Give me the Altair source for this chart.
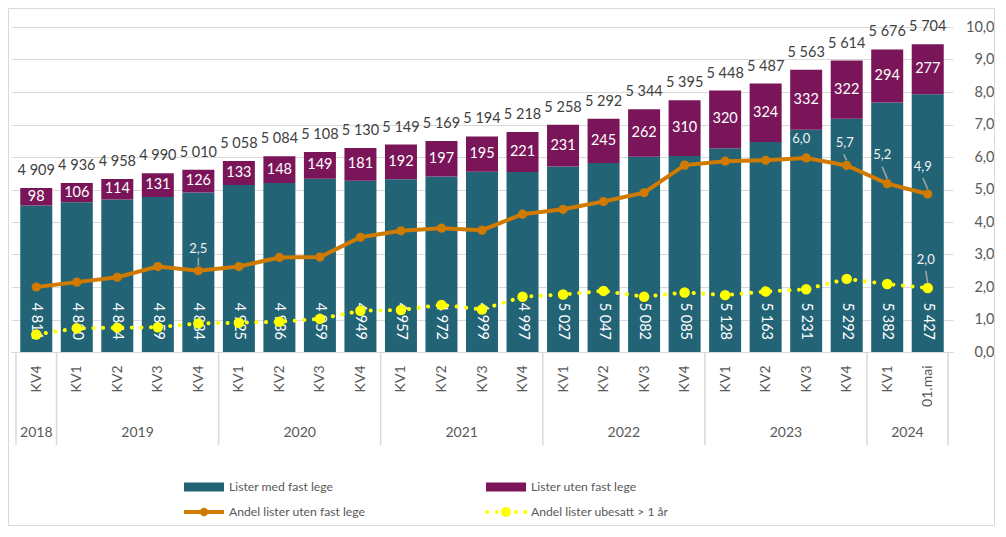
import json
import altair as alt
import pandas as pd

# ---------------- data ----------------
quarters = ["KV4", "KV1", "KV2", "KV3", "KV4", "KV1", "KV2", "KV3", "KV4", "KV1", "KV2", "KV3",
            "KV4", "KV1", "KV2", "KV3", "KV4", "KV1", "KV2", "KV3", "KV4", "KV1", "01.mai"]
years = ["2018", "2019", "2020", "2021", "2022", "2023", "2024"]
year_counts = [1, 4, 4, 4, 4, 4, 2]
totals = [4909, 4936, 4958, 4990, 5010, 5058, 5084, 5108, 5130, 5149, 5169, 5194,
          5218, 5258, 5292, 5344, 5395, 5448, 5487, 5563, 5614, 5676, 5704]
med_fast = [4811, 4830, 4844, 4859, 4884, 4925, 4936, 4959, 4949, 4957, 4972, 4999,
            4997, 5027, 5047, 5082, 5085, 5128, 5163, 5231, 5292, 5382, 5427]
uten_fast = [98, 106, 114, 131, 126, 133, 148, 149, 181, 192, 197, 195,
             221, 231, 245, 262, 310, 320, 324, 332, 322, 294, 277]
andel_uten = [2.0, 2.15, 2.3, 2.63, 2.5, 2.63, 2.91, 2.92, 3.53, 3.73, 3.81, 3.75,
              4.24, 4.39, 4.63, 4.90, 5.75, 5.87, 5.90, 5.97, 5.74, 5.18, 4.86]
andel_ubesatt = [0.54, 0.73, 0.75, 0.76, 0.88, 0.90, 0.93, 1.02, 1.27, 1.29, 1.45, 1.31,
                 1.70, 1.77, 1.88, 1.70, 1.83, 1.75, 1.86, 1.93, 2.25, 2.09, 1.97]
legend_labels = ["Lister med fast lege", "Lister uten fast lege",
                 "Andel lister uten fast lege", "Andel lister ubesatt > 1 år"]

# labelled points: (series, index, text dx, text dy, leader dx, leader dy)
line_labels = [
    ("uten", 4, 0, -22, 0, -13),
    ("uten", 19, -5, -19, None, None),
    ("uten", 20, -2, -22, -3, -11),
    ("uten", 21, -5, -29, -5, -17),
    ("uten", 22, -5, -27, -5, -16),
    ("ubesatt", 22, -2, -28, -2, -17),
]

# ---------------- styling ----------------
FONT = "Lato"
TEAL = "#226376"
PURPLE = "#7A1559"
ORANGE = "#D07A00"
YELLOW = "#FFFF00"
GRID = "#D9D9D9"
AXIS_TXT = "#595959"
DARK_TXT = "#404040"
W, H = 942, 325

n = len(quarters)
df = pd.DataFrame({
    "i": list(range(n)),
    "quarter": quarters,
    "total": totals,
    "med": med_fast,
    "uten": uten_fast,
    "pct_uten": andel_uten,
    "pct_ubesatt": andel_ubesatt,
})

starts, centers = [], []
s = 0
for c in year_counts:
    starts.append(s)
    centers.append(s + (c - 1) / 2)
    s += c
df_years = pd.DataFrame({"year": years, "center": centers})
bounds = [-0.5] + [st + c - 0.5 for st, c in zip(starts, year_counts)]
df_bounds = pd.DataFrame({"b": bounds})

x_scale = alt.Scale(domain=[-0.5, n - 0.5], nice=False, zero=False)
bar_scale = alt.Scale(domain=[4000, 5800], nice=False, zero=False)
pct_scale = alt.Scale(domain=[0, 10], nice=False)

x_axis = alt.Axis(
    values=list(range(n)),
    labelExpr=json.dumps(quarters) + "[datum.value]",
    labelAngle=-90, labelFont=FONT, labelFontSize=14, labelColor=AXIS_TXT,
    labelPadding=13, ticks=False, domainColor=GRID, domainWidth=1,
    grid=False, title=None, labelOverlap=False, labelFlush=False,
)
pct_axis = alt.Axis(
    orient="right", values=list(range(11)),
    labelExpr="replace(format(datum.value, '.1f'), '.', ',')",
    grid=True, gridColor=GRID, gridWidth=1, domain=False, ticks=False,
    labelAlign="right", labelPadding=41, labelFont=FONT, labelFontSize=14.5,
    labelColor=AXIS_TXT, title=None,
)


def X(field="i"):
    return alt.X(f"{field}:Q", scale=x_scale, axis=x_axis)


def YB(field):
    return alt.Y(f"{field}:Q", scale=bar_scale, axis=None)


def YP(field):
    return alt.Y(f"{field}:Q", scale=pct_scale, axis=pct_axis)


fmt_int = "replace(format(datum.{f}, ','), ',', ' ')"
fmt_dec = "replace(format(datum.{f}, '.1f'), '.', ',')"

base = alt.Chart(df).transform_calculate(
    total_txt=fmt_int.format(f="total"),
    med_txt=fmt_int.format(f="med"),
    uten_txt=fmt_int.format(f="uten"),
    uten_mid="datum.total - datum.uten / 2",
)

teal = base.mark_bar(size=32, color=TEAL).encode(
    x=X(), y=YB("med"), y2=alt.datum(4000),
)
purple = base.mark_bar(size=32, color=PURPLE).encode(
    x=X(), y=YB("total"), y2="med:Q",
)
total_text = base.mark_text(font=FONT, fontSize=14.5, color=DARK_TXT,
                            baseline="alphabetic", dy=-13).encode(
    x=X(), y=YB("total"), text="total_txt:N",
)
purple_text = base.mark_text(font=FONT, fontSize=14.5, color="white",
                             baseline="middle").encode(
    x=X(), y=YB("uten_mid"), text="uten_txt:N",
)
teal_text = base.mark_text(font=FONT, fontSize=14.5, color="white", angle=90,
                           align="right", baseline="middle", dx=-12).encode(
    x=X(), y=alt.datum(4000), text="med_txt:N",
)

year_text = alt.Chart(df_years).mark_text(
    font=FONT, fontSize=14, color=AXIS_TXT, baseline="middle").encode(
    x=X("center"), y=alt.value(406), text="year:N",
)
separators = alt.Chart(df_bounds).mark_rule(color=GRID, strokeWidth=1.5).encode(
    x=X("b"), y=alt.value(H), y2=alt.value(418),
)


# legend
def one(name):
    return alt.Chart(pd.DataFrame({"label": [name]}))


lg = []
col_x = [173, 475]
row_y = [460, 485]
lg.append(one(legend_labels[0]).mark_rect(color=TEAL).encode(
    x=alt.value(col_x[0]), x2=alt.value(col_x[0] + 40),
    y=alt.value(row_y[0] - 4.5), y2=alt.value(row_y[0] + 4.5)))
lg.append(one(legend_labels[1]).mark_rect(color=PURPLE).encode(
    x=alt.value(col_x[1]), x2=alt.value(col_x[1] + 40),
    y=alt.value(row_y[0] - 4.5), y2=alt.value(row_y[0] + 4.5)))
lg.append(one(legend_labels[2]).mark_rule(color=ORANGE, strokeWidth=4).encode(
    x=alt.value(col_x[0]), x2=alt.value(col_x[0] + 40), y=alt.value(row_y[1])))
lg.append(one(legend_labels[2]).mark_circle(color=ORANGE, opacity=1, size=70).encode(
    x=alt.value(col_x[0] + 20), y=alt.value(row_y[1])))
lg.append(one(legend_labels[3]).mark_rule(color=YELLOW, strokeWidth=4, strokeCap="round",
                                          strokeDash=[0.1, 9.5]).encode(
    x=alt.value(col_x[1] + 1), x2=alt.value(col_x[1] + 40), y=alt.value(row_y[1])))
lg.append(one(legend_labels[3]).mark_circle(color=YELLOW, opacity=1, size=100).encode(
    x=alt.value(col_x[1] + 20), y=alt.value(row_y[1])))
for k, (cx, ry) in enumerate([(col_x[0], row_y[0]), (col_x[1], row_y[0]),
                               (col_x[0], row_y[1]), (col_x[1], row_y[1])]):
    lg.append(one(legend_labels[k]).mark_text(
        font=FONT, fontSize=12.2, color=AXIS_TXT, align="left", baseline="middle").encode(
        x=alt.value(cx + 45), y=alt.value(ry), text="label:N"))

border = one("b").mark_rect(fill=None, stroke=GRID, strokeWidth=1).encode(
    x=alt.value(-2.5), x2=alt.value(W + 41.5), y=alt.value(-18.5), y2=alt.value(H + 173.5))

bars_group = alt.layer(teal, purple, total_text, purple_text, teal_text,
                       year_text, separators, border, *lg)

# lines
lbase = alt.Chart(df)
orange_line = lbase.mark_line(color=ORANGE, strokeWidth=4).encode(
    x=X(), y=YP("pct_uten"))
orange_pts = lbase.mark_circle(color=ORANGE, opacity=1, size=85).encode(
    x=X(), y=YP("pct_uten"))
yellow_line = lbase.mark_line(color=YELLOW, strokeWidth=4, strokeCap="round",
                              strokeDash=[0.1, 9.5]).encode(
    x=X(), y=YP("pct_ubesatt"))
yellow_pts = lbase.mark_circle(color=YELLOW, opacity=1, size=110).encode(
    x=X(), y=YP("pct_ubesatt"))

label_layers = []
for series, idx, tdx, tdy, ldx, ldy in line_labels:
    field = "pct_uten" if series == "uten" else "pct_ubesatt"
    sub = lbase.transform_filter(f"datum.i == {idx}").transform_calculate(
        txt=fmt_dec.format(f=field))
    if ldx is not None:
        label_layers.append(sub.mark_rule(color="#A6A6A6", strokeWidth=1.5,
                                          yOffset=-5, x2Offset=ldx, y2Offset=ldy).encode(
            x=X(), x2="i:Q", y=YP(field), y2=f"{field}:Q"))
    label_layers.append(sub.mark_text(font=FONT, fontSize=13, color="#F2F2F2",
                                      baseline="middle", dx=tdx, dy=tdy).encode(
        x=X(), y=YP(field), text="txt:N"))

lines_group = alt.layer(orange_line, orange_pts, yellow_line, yellow_pts, *label_layers)

chart = alt.layer(bars_group, lines_group).resolve_scale(y="independent").properties(
    width=W, height=H,
    autosize=alt.AutoSizeParams(type="none"),
    padding={"left": 3, "top": 19, "right": 45, "bottom": 175},
).configure_view(stroke=None)

chart.save("out.html", embed_options={"renderer": "svg", "actions": False})
